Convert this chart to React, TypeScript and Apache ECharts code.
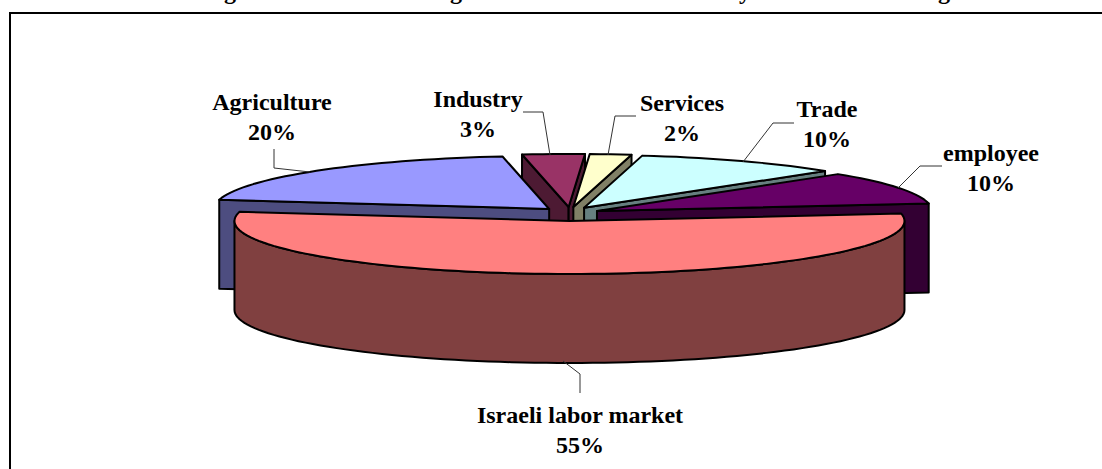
import React, { useEffect, useRef } from "react";
import * as echarts from "echarts";

const categories = ["Agriculture", "Industry", "Services", "Trade", "employee", "Israeli labor market"];
const shares = [20, 3, 2, 10, 10, 55];
const topColors = ["#9999FF", "#993366", "#FFFFCC", "#CCFFFF", "#660066", "#FF8080"];
const wallColors = ["#4D4D80", "#4D1A33", "#808066", "#668080", "#330033", "#804040"];
const paintRank = [5, 1, 2, 3, 4, 6];
const labelCentres = [[272, 117], [478, 113.5], [682, 117.5], [827, 124], [991, 167.5], [580, 429.5]];
const leaders = [
  [[274, 149], [274, 168], [310, 172]],
  [[523, 112], [543, 112], [550, 155]],
  [[636, 116], [615, 116], [608, 155]],
  [[794, 123], [773, 123], [743, 162]],
  [[942, 166], [920, 166], [898, 188]],
  [[580, 393], [580, 374], [563, 361]],
];
const titleFragments = [["g", 230], ["g", 456], ["y", 745], ["g", 944]] as const;

const FIRST_ANGLE = 170;
const CX = 570, CY = 214, RX = 335, RY = 53, DEPTH = 89, EX = 30, EY = 7;
const FONT = "Liberation Serif";
const rad = (d: number) => (d * Math.PI) / 180;

function sweep(i: number) {
  let a0 = FIRST_ANGLE;
  for (let k = 0; k < i; k++) a0 -= shares[k] * 3.6;
  return a0;
}

function arcPoints(x: number, y: number, from: number, to: number) {
  const n = Math.max(2, Math.ceil(Math.abs(from - to) / 2));
  const out: number[][] = [];
  for (let k = 0; k <= n; k++) {
    const a = from + ((to - from) * k) / n;
    out.push([x + RX * Math.cos(rad(a)), y - RY * Math.sin(rad(a))]);
  }
  return out;
}

function renderSlice(params: any, api: any) {
  const i = params.dataIndex;
  const value = api.value(0);
  const a0 = sweep(i);
  const a1 = a0 - value * 3.6;
  const mid = (a0 + a1) / 2;
  const ax = CX + EX * Math.cos(rad(mid));
  const ay = CY - EY * Math.sin(rad(mid));
  const base = paintRank[i] * 10;
  const stroke = { stroke: "#000", lineWidth: 2, lineJoin: "round" };
  const children: any[] = [];
  const wall = (a: number) => {
    const [end] = arcPoints(ax, ay, a, a);
    children.push({
      type: "polygon",
      z2: base,
      shape: { points: [end, [ax, ay], [ax, ay + DEPTH], [end[0], end[1] + DEPTH]] },
      style: { fill: wallColors[i], ...stroke },
    });
  };
  if (Math.cos(rad(a0)) < 0) wall(a0);
  if (Math.cos(rad(a1)) > 0) wall(a1);
  // outer rim, only where it faces the viewer
  const lo = Math.max(a1, -180);
  const hi = Math.min(a0, 0);
  if (hi > lo) {
    const top = arcPoints(ax, ay, hi, lo);
    const bottom = top.map(([x, y]) => [x, y + DEPTH]).reverse();
    children.push({
      type: "polygon",
      z2: base + 1,
      shape: { points: [...top, ...bottom] },
      style: { fill: wallColors[i], ...stroke },
    });
  }
  children.push({
    type: "polygon",
    z2: base + 2,
    shape: { points: [[ax, ay], ...arcPoints(ax, ay, a0, a1)] },
    style: { fill: topColors[i], ...stroke },
  });
  children.push({
    type: "polyline",
    z2: 100,
    shape: { points: leaders[i] },
    style: { fill: "none", stroke: "#333", lineWidth: 1 },
  });
  children.push({
    type: "text",
    z2: 101,
    x: labelCentres[i][0],
    y: labelCentres[i][1],
    style: {
      text: `${categories[i]}\n${value}%`,
      fill: "#000",
      fontFamily: FONT,
      fontWeight: "bold",
      fontSize: 24,
      lineHeight: 30,
      align: "center",
      verticalAlign: "middle",
    },
  });
  return { type: "group", children };
}

export default function App() {
  const ref = useRef<HTMLDivElement>(null);
  useEffect(() => {
    const chart = echarts.init(ref.current!, null, { renderer: "svg" });
    chart.setOption({
      animation: false,
      backgroundColor: "#fff",
      graphic: [
        { type: "line", shape: { x1: 10, y1: 13, x2: 1102, y2: 13 }, style: { stroke: "#000", lineWidth: 2 } },
        { type: "line", shape: { x1: 10, y1: 12, x2: 10, y2: 469 }, style: { stroke: "#000", lineWidth: 2 } },
        ...titleFragments.map(([t, x]) => ({
          type: "text",
          x,
          y: 3,
          style: { text: t, fill: "#000", fontFamily: FONT, fontWeight: "bold", fontSize: 24, align: "center", verticalAlign: "bottom" },
        })),
      ],
      series: [
        {
          type: "custom",
          coordinateSystem: "none",
          silent: true,
          renderItem: renderSlice,
          data: shares.map((v) => [v]),
        },
      ],
    });
    return () => chart.dispose();
  }, []);
  return <div ref={ref} style={{ position: "fixed", left: 0, top: 0, width: 1102, height: 469 }} />;
}
